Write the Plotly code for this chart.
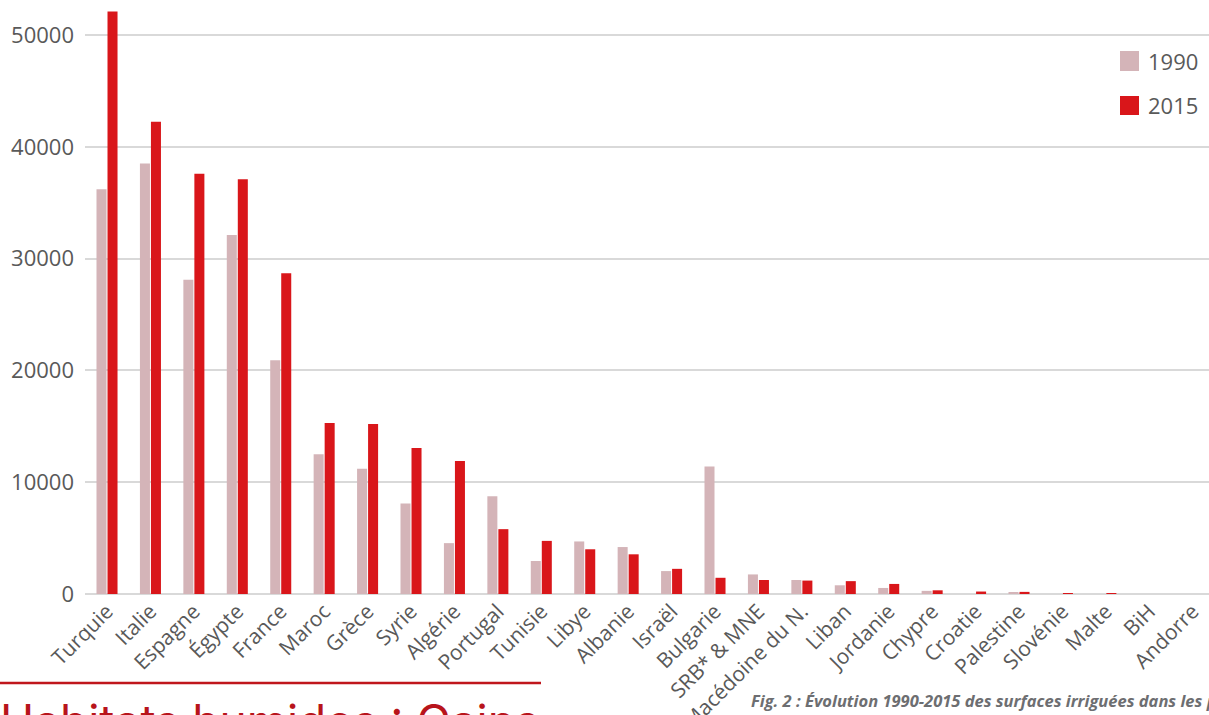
import plotly.graph_objects as go

countries = ["Turquie", "Italie", "Espagne", "Égypte", "France", "Maroc", "Grèce", "Syrie",
             "Algérie", "Portugal", "Tunisie", "Libye", "Albanie", "Israël", "Bulgarie",
             "SRB* & MNE", "Macédoine du N.", "Liban", "Jordanie", "Chypre", "Croatie",
             "Palestine", "Slovénie", "Malte", "BiH", "Andorre"]
v1990 = [36200, 38500, 28100, 32100, 20900, 12500, 11200, 8100, 4550, 8750, 2950, 4700,
         4200, 2050, 11400, 1750, 1250, 780, 540, 280, 0, 120, 0, 0, 0, 0]
v2015 = [52100, 42250, 37600, 37100, 28700, 15300, 15200, 13050, 11900, 5800, 4750, 4000,
         3550, 2250, 1450, 1250, 1200, 1150, 900, 330, 220, 190, 40, 30, 0, 0]
series_names = ["1990", "2015"]
colors = ["#D4B4B8", "#D9161A"]
y_ticks = [0, 10000, 20000, 30000, 40000, 50000]

title_text = "Habitats humides : Gains"
caption_text = "Fig. 2 : Évolution 1990-2015 des surfaces irriguées dans les pays méditerranéens"

W, H = 1209, 715
L, B = 85, 121
PW, PH = W - L, H - B

def px_x(p):
    return (p - L) / PW

def px_y(p):
    return 1 - p / PH

fig = go.Figure()
for name, vals, col in zip(series_names, [v1990, v2015], colors):
    fig.add_trace(go.Bar(x=countries, y=vals, name=name, marker_color=col,
                         marker_line_width=0, showlegend=False))

fig.update_layout(
    width=W, height=H,
    margin=dict(l=L, r=0, t=0, b=B, pad=0, autoexpand=False),
    paper_bgcolor="white", plot_bgcolor="white",
    barmode="group", bargap=0.493, bargroupgap=0.09,
    font=dict(family="Open Sans", color="#595959"),
    xaxis=dict(range=[-0.507, 25.375], tickangle=-45, tickfont=dict(size=21, color="#595959"),
               showgrid=False, showline=False, ticks="", fixedrange=True, automargin=False),
    yaxis=dict(range=[0, 53130], tickvals=y_ticks, tickformat="d",
               tickfont=dict(size=22, color="#595959"),
               showgrid=True, gridcolor="#D9D9D9", gridwidth=1.5, zeroline=True,
               zerolinecolor="#D9D9D9", zerolinewidth=2, showline=False, ticks="",
               ticklabelstandoff=10, fixedrange=True, automargin=False),
)

# legend drawn as squares + labels
leg_sq = [(51, 71), (96, 115)]
for (y0, y1), name, col in zip(leg_sq, series_names, colors):
    fig.add_shape(type="rect", xref="paper", yref="paper",
                  x0=px_x(1120), x1=px_x(1139), y0=px_y(y1), y1=px_y(y0),
                  fillcolor=col, line_width=0)
    fig.add_annotation(xref="paper", yref="paper", x=px_x(1146), y=px_y((y0 + y1) / 2),
                       text=name, showarrow=False, xanchor="left", yanchor="middle",
                       font=dict(size=22, color="#595959", family="Open Sans"))

# bottom decoration: red rule, section title, figure caption
fig.add_shape(type="line", xref="paper", yref="paper",
              x0=px_x(0), x1=px_x(541), y0=px_y(683), y1=px_y(683),
              line=dict(color="#C0161C", width=2.5))
fig.add_annotation(xref="paper", yref="paper", x=px_x(-2), y=px_y(691),
                   text=title_text, showarrow=False, xanchor="left", yanchor="top",
                   font=dict(size=46, color="#B8141B", family="Inter"))
fig.add_annotation(xref="paper", yref="paper", x=px_x(749), y=px_y(687),
                   text="<b><i>" + caption_text + "</i></b>", showarrow=False,
                   xanchor="left", yanchor="top",
                   font=dict(size=16.5, color="#6D6E71", family="Open Sans"))

fig.write_html("out.html")
